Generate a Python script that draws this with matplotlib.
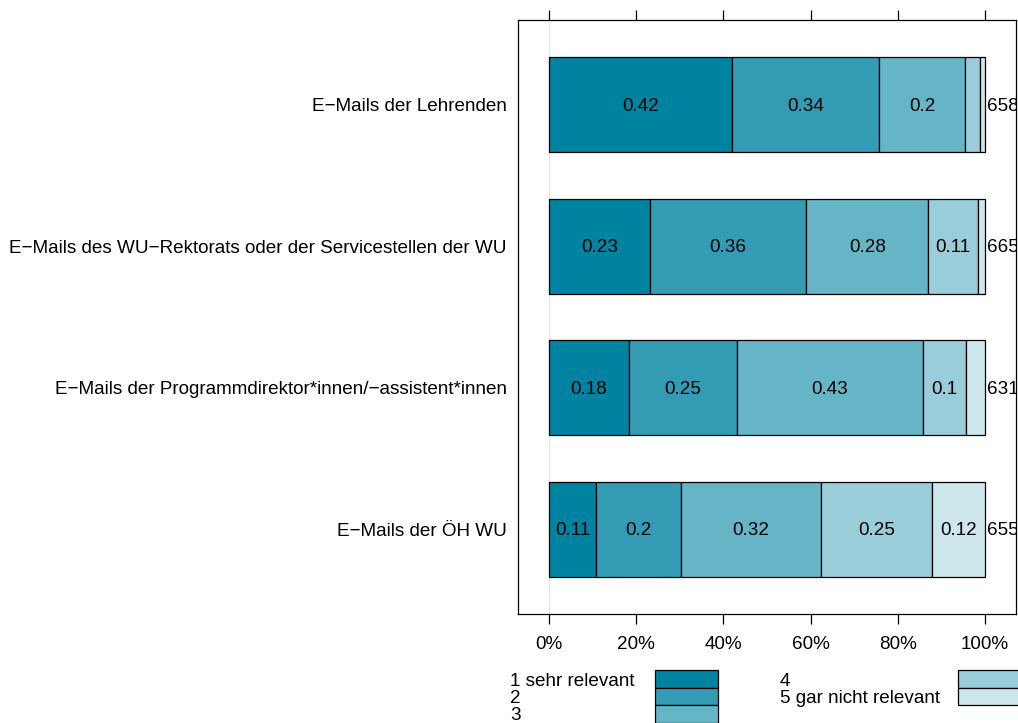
import matplotlib
matplotlib.use("Agg")
import matplotlib.pyplot as plt
from matplotlib.patches import Rectangle
import numpy as np

plt.rcParams['font.family'] = ['Liberation Sans', 'DejaVu Sans']

# data (top row first)
categories = [
    "E\u2212Mails der Lehrenden",
    "E\u2212Mails des WU\u2212Rektorats oder der Servicestellen der WU",
    "E\u2212Mails der Programmdirektor*innen/\u2212assistent*innen",
    "E\u2212Mails der \u00d6H WU",
]
levels = ["1 sehr relevant", "2", "3", "4", "5 gar nicht relevant"]
shares = np.array([
    [0.42, 0.337, 0.197, 0.035, 0.011],
    [0.232, 0.358, 0.280, 0.114, 0.016],
    [0.183, 0.248, 0.427, 0.099, 0.043],
    [0.108, 0.195, 0.321, 0.254, 0.122],
])
counts = [658, 665, 631, 655]
colors = ["#0083a1", "#339cb4", "#66b5c7", "#99cdd9", "#cce6ec"]

FS = 13.6

fig = plt.figure(figsize=(10.18, 7.23), dpi=100)
W, H = 1018, 723
ax = fig.add_axes([518 / W, 1 - 614 / H, (1016 - 518) / W, (614 - 20) / H])

ypos = np.arange(len(categories))[::-1] + 1
ax.axvline(0, color="#e6e6e6", lw=1, zorder=0)
for i, y in enumerate(ypos):
    left = 0.0
    for j, v in enumerate(shares[i]):
        ax.barh(y, v, left=left, height=0.67, color=colors[j],
                edgecolor="black", linewidth=0.9)
        r = round(v, 2)
        if r >= 0.1:
            lab = f"{r:.2f}".rstrip("0")
            ax.text(left + v / 2, y - 0.01, lab, ha="center", va="center",
                    fontsize=FS)
        left += v
    ax.text(1.004, y - 0.01, str(counts[i]), ha="left", va="center",
            fontsize=FS, clip_on=True)

ax.set_xlim(-0.071, 1.071)
ax.set_ylim(0.4, 4.6)
ax.set_yticks(ypos)
ax.set_yticklabels(categories, fontsize=FS)
ax.tick_params(axis="y", length=0, pad=8)
ticks = np.linspace(0, 1, 6)
ax.set_xticks(ticks)
ax.set_xticklabels([f"{int(t * 100)}%" for t in ticks], fontsize=FS)
ax.tick_params(axis="x", top=True, direction="out", length=7, width=0.9, pad=9)
for s in ax.spines.values():
    s.set_linewidth(0.9)

# legend below the panel, partly cut by the figure edge
def fx(px):
    return px / W

def fy(py):
    return 1 - py / H

rows = [(0, 0), (0, 1), (0, 2), (1, 0), (1, 1)]
for k, (col, r) in enumerate(rows):
    tx = 510 if col == 0 else 780
    px = 655 if col == 0 else 958
    top = 670 + r * 17.5
    fig.text(fx(tx), fy(top + 11), levels[k], fontsize=FS, ha="left",
             va="center")
    fig.patches.append(Rectangle((fx(px), fy(top + 17.5)), fx(63),
                                 17.5 / H, transform=fig.transFigure,
                                 facecolor=colors[k], edgecolor="black",
                                 linewidth=0.9))

fig.savefig("out.png", dpi=100)
